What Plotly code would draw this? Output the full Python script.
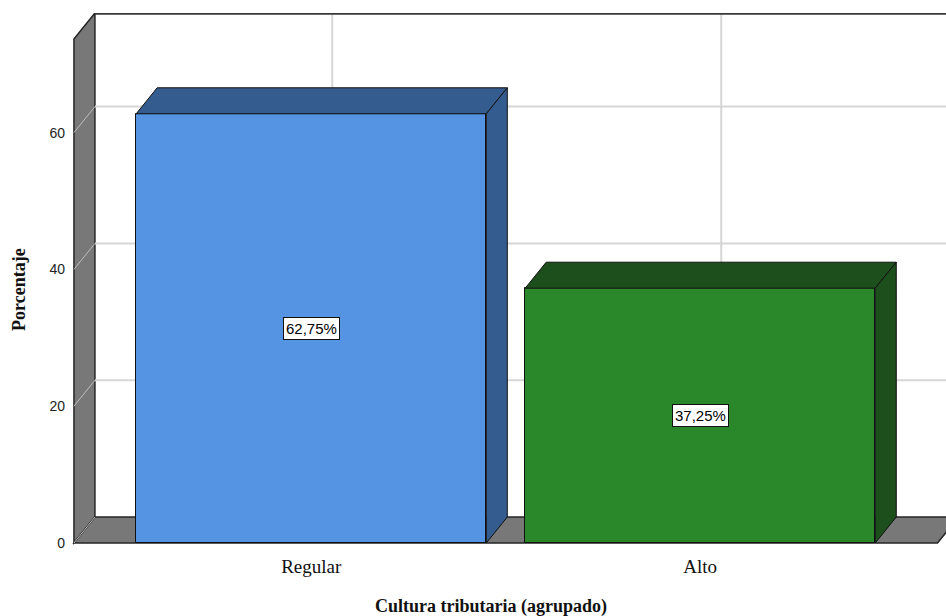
import plotly.graph_objects as go

# ---- data ----
categories = ["Regular", "Alto"]
values = [62.75, 37.25]
y_ticks = [0, 20, 40, 60]
x_title = "Cultura tributaria (agrupado)"
y_title = "Porcentaje"

# ---- style ----
front_colors = ["#5594E3", "#2A882A"]
dark_colors = ["#345C8E", "#1C4F1C"]
wall_color = "#787878"
grid_color = "#D6D6D6"
edge_color = "#262626"

W, H = 946, 616
ml, mr, mt, mb = 72, 0, 13, 70
px_per_cat = 389.0
px_per_unit = 6.84
x_lo = -0.615
x_hi = x_lo + (W - ml - mr) / px_per_cat
y_lo = -3 / px_per_unit
y_hi = y_lo + (H - mt - mb) / px_per_unit
bar_w = 0.9
dx = 21 / px_per_cat        # depth offset (x, category units)
dy = 26 / px_per_unit       # depth offset (y, value units)
wall_x = -0.61
floor_x = 1.61
front_top = y_hi - dy

xs = list(range(len(categories)))


def path(pts):
    return "M " + " L ".join(f"{x},{y}" for x, y in pts) + " Z"


shapes = []
# left wall
shapes.append(dict(type="path", xref="x", yref="y", layer="below",
                   path=path([(wall_x, 0), (wall_x, front_top), (wall_x + dx, y_hi), (wall_x + dx, dy)]),
                   fillcolor=wall_color, line=dict(color=edge_color, width=1.5)))
# floor
shapes.append(dict(type="path", xref="x", yref="y", layer="below",
                   path=path([(wall_x, 0), (wall_x + dx, dy), (floor_x + dx, dy), (floor_x, 0)]),
                   fillcolor=wall_color, line=dict(color=edge_color, width=1.5)))
# grid lines on left wall and back wall
for v in y_ticks:
    shapes.append(dict(type="line", xref="x", yref="y", layer="below",
                       x0=wall_x, y0=v, x1=wall_x + dx, y1=v + dy,
                       line=dict(color="#BDBDBD", width=1)))
    if v > 0:
        shapes.append(dict(type="line", xref="x", yref="y", layer="below",
                           x0=wall_x + dx, y0=v + dy, x1=x_hi + 0.1, y1=v + dy,
                           line=dict(color=grid_color, width=2)))
for x in xs:
    shapes.append(dict(type="line", xref="x", yref="y", layer="below",
                       x0=x + dx, y0=dy, x1=x + dx, y1=y_hi,
                       line=dict(color=grid_color, width=2)))
# back wall top border
shapes.append(dict(type="line", xref="x", yref="y", layer="below",
                   x0=wall_x + dx, y0=y_hi - 0.12, x1=x_hi + 0.1, y1=y_hi - 0.12,
                   line=dict(color="#3A3A3A", width=2)))

# bar top and side faces
for x, v, dc in zip(xs, values, dark_colors):
    x0, x1 = x - bar_w / 2, x + bar_w / 2
    shapes.append(dict(type="path", xref="x", yref="y", layer="above",
                       path=path([(x0, v), (x0 + dx, v + dy), (x1 + dx, v + dy), (x1, v)]),
                       fillcolor=dc, line=dict(color="#111111", width=1)))
    shapes.append(dict(type="path", xref="x", yref="y", layer="above",
                       path=path([(x1, 0), (x1, v), (x1 + dx, v + dy), (x1 + dx, dy)]),
                       fillcolor=dc, line=dict(color="#111111", width=1)))

fig = go.Figure()
fig.add_trace(go.Bar(
    x=xs, y=values, width=bar_w,
    marker=dict(color=front_colors, line=dict(color="#111111", width=1)),
    hoverinfo="skip", showlegend=False,
))

annotations = []
for x, v in zip(xs, values):
    annotations.append(dict(
        x=x, y=v / 2, xref="x", yref="y", showarrow=False,
        text=f"{v:.2f}".replace(".", ",") + "%",
        bgcolor="white", bordercolor="#111111", borderwidth=1, borderpad=2,
        font=dict(family="Liberation Sans", size=15, color="black"),
    ))

# axis titles placed as annotations (paper coordinates)
annotations.append(dict(
    x=(491 - ml) / (W - ml - mr), y=-(606 - (H - mb)) / (H - mt - mb),
    xref="paper", yref="paper", showarrow=False, yanchor="middle", xanchor="center",
    text=f"<b>{x_title}</b>",
    font=dict(family="Liberation Serif", size=18, color="#111111"),
))
annotations.append(dict(
    x=-(ml - 19) / (W - ml - mr), y=((H - mb) - 290) / (H - mt - mb),
    xref="paper", yref="paper", showarrow=False, yanchor="middle", xanchor="center",
    textangle=-90, text=f"<b>{y_title}</b>",
    font=dict(family="Liberation Serif", size=18, color="#111111"),
))

fig.update_layout(
    width=W, height=H,
    margin=dict(l=ml, r=mr, t=mt, b=mb),
    paper_bgcolor="white", plot_bgcolor="white",
    shapes=shapes, annotations=annotations,
    bargap=0,
    xaxis=dict(range=[x_lo, x_hi], tickmode="array", tickvals=xs, ticktext=categories,
               showgrid=False, zeroline=False, showline=False, ticks="",
               ticklabelstandoff=7,
               tickfont=dict(family="Liberation Serif", size=19, color="#111111")),
    yaxis=dict(range=[y_lo, y_hi], tickmode="array", tickvals=y_ticks,
               showgrid=False, zeroline=False, showline=False, ticks="",
               ticklabelstandoff=6,
               tickfont=dict(family="Liberation Sans", size=14, color="#222222")),
)

fig.write_html("out.html")
